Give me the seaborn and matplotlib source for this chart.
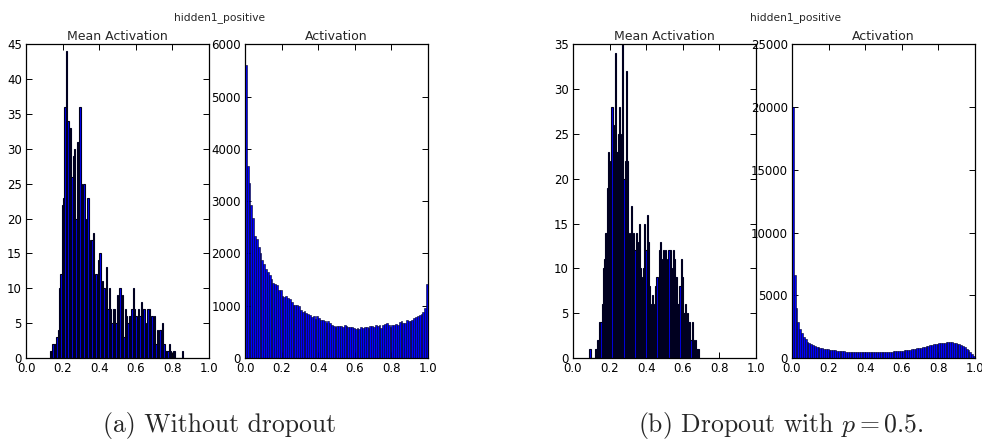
"""Histograms of hidden unit activations, with and without dropout."""

import matplotlib
matplotlib.use("Agg")
import matplotlib.pyplot as plt
import numpy as np
import pandas as pd
import seaborn as sns

# Mean activation per hidden unit, without dropout (100 bins, 0.13 .. 0.86)
mean_nodrop_range = (0.13, 0.86)
mean_nodrop_counts = [
    1, 1, 2, 2, 2, 3, 4, 10, 12, 22,
    23, 36, 44, 34, 33, 33, 26, 29, 30, 20,
    31, 31, 36, 25, 20, 25, 16, 20, 23, 14,
    17, 17, 18, 8, 12, 11, 14, 15, 5, 11,
    10, 9, 13, 7, 10, 7, 5, 7, 7, 5,
    9, 8, 10, 7, 9, 3, 7, 6, 5, 6,
    6, 7, 10, 7, 6, 3, 7, 6, 8, 7,
    7, 3, 5, 7, 7, 4, 6, 5, 6, 2,
    4, 3, 4, 4, 5, 2, 1, 1, 1, 2,
    1, 0, 1, 1, 0, 0, 0, 0, 0, 1,
]

# Activations of all units, without dropout (100 bins, 0 .. 1)
act_nodrop_counts = [
    5600, 3680, 3350, 2930, 2680, 2340, 2280, 2120, 2000, 1880,
    1800, 1700, 1650, 1580, 1520, 1440, 1420, 1390, 1300, 1300,
    1180, 1170, 1190, 1140, 1130, 1080, 1010, 1010, 1010, 990,
    920, 880, 900, 860, 840, 820, 790, 800, 740, 810,
    770, 730, 730, 700, 660, 700, 660, 640, 610, 600,
    620, 610, 620, 600, 630, 620, 590, 600, 590, 580,
    560, 570, 550, 600, 580, 590, 600, 580, 610, 620,
    600, 630, 620, 630, 580, 630, 650, 670, 640, 600,
    640, 640, 650, 640, 690, 700, 670, 660, 720, 710,
    700, 730, 760, 780, 800, 830, 840, 880, 960, 1420,
]

# Mean activation per hidden unit, dropout p=0.5 (100 bins, 0.09 .. 0.69)
mean_drop_range = (0.09, 0.69)
mean_drop_counts = [
    1, 0, 0, 0, 0, 1, 1, 2, 2, 4,
    4, 6, 10, 11, 14, 14, 19, 23, 21, 22,
    28, 26, 22, 34, 23, 23, 25, 28, 23, 25,
    35, 20, 22, 32, 22, 14, 11, 14, 17, 13,
    14, 12, 14, 8, 13, 15, 10, 8, 9, 10,
    15, 12, 16, 13, 8, 6, 5, 7, 6, 5,
    8, 9, 7, 12, 13, 11, 8, 12, 11, 12,
    10, 11, 12, 12, 10, 9, 12, 11, 9, 9,
    6, 6, 8, 11, 9, 5, 5, 6, 4, 5,
    4, 4, 2, 4, 2, 1, 2, 1, 1, 1,
]

# Activations of all units, dropout p=0.5 (100 bins, 0 .. 1)
act_drop_counts = [
    20000, 6600, 4000, 2900, 2300, 2000, 1700, 1500, 1300, 1200,
    1100, 1000, 950, 900, 850, 820, 760, 720, 700, 680,
    650, 630, 620, 600, 580, 560, 560, 540, 520, 510,
    510, 500, 490, 490, 480, 480, 470, 470, 470, 460,
    460, 460, 460, 460, 460, 470, 470, 470, 480, 480,
    490, 490, 500, 500, 510, 520, 530, 540, 550, 560,
    580, 600, 610, 630, 650, 680, 700, 730, 760, 790,
    820, 860, 890, 930, 970, 1000, 1040, 1080, 1110, 1140,
    1170, 1190, 1210, 1230, 1240, 1250, 1250, 1240, 1220, 1190,
    1150, 1090, 1020, 940, 850, 740, 620, 480, 330, 170,
]

panel_titles = ["Mean Activation", "Activation"]
suptitle = "hidden1_positive"
captions = ["(a) Without dropout", "(b) Dropout with $p = 0.5$."]
x_ticks = [0.0, 0.2, 0.4, 0.6, 0.8, 1.0]
y_ticks = [
    list(range(0, 46, 5)),
    list(range(0, 6001, 1000)),
    list(range(0, 36, 5)),
    list(range(0, 25001, 5000)),
]
y_max = [45, 6000, 35, 25000]


def _hist(ax, counts, lo, hi, title, yt, ymax, lw):
    edges = np.linspace(lo, hi, len(counts) + 1)
    df = pd.DataFrame({"value": (edges[:-1] + edges[1:]) / 2, "n": counts})
    sns.histplot(data=df, x="value", weights="n", bins=edges.tolist(),
                 color="#0000ff", edgecolor="#000020", linewidth=lw,
                 alpha=1.0, ax=ax)
    ax.set_xlim(0, 1)
    ax.set_ylim(0, ymax)
    ax.set_xticks(x_ticks)
    ax.set_xticklabels([f"{t:.1f}" for t in x_ticks])
    ax.set_yticks(yt)
    ax.set_xlabel("")
    ax.set_ylabel("")
    ax.set_title(title, fontsize=9, pad=3)
    ax.tick_params(direction="in", top=True, right=True, length=4,
                   width=0.7, labelsize=8.5, pad=3, colors="black")
    for s in ax.spines.values():
        s.set_color("black")
        s.set_linewidth(0.9)


sns.set_style("ticks")
plt.rcParams["font.family"] = ["DejaVu Sans"]
plt.rcParams["mathtext.fontset"] = "cm"

fig = plt.figure(figsize=(9.82, 4.4), dpi=100)
lefts = [0.0265, 0.2495, 0.5835, 0.8065]
axes = [fig.add_axes([l, 0.1864, 0.1863, 0.7125]) for l in lefts]

_hist(axes[0], mean_nodrop_counts, *mean_nodrop_range, panel_titles[0], y_ticks[0], y_max[0], 0.8)
_hist(axes[1], act_nodrop_counts, 0.0, 1.0, panel_titles[1], y_ticks[1], y_max[1], 0.4)
_hist(axes[2], mean_drop_counts, *mean_drop_range, panel_titles[0], y_ticks[2], y_max[2], 0.8)
_hist(axes[3], act_drop_counts, 0.0, 1.0, panel_titles[1], y_ticks[3], y_max[3], 0.4)

fig.text(0.224, 0.961, suptitle, ha="center", va="center", fontsize=7.7)
fig.text(0.810, 0.961, suptitle, ha="center", va="center", fontsize=7.7)
fig.text(0.224, 0.034, captions[0], ha="center", va="center", fontsize=18.5, family="cmr10")
fig.text(0.795, 0.034, captions[1], ha="center", va="center", fontsize=18.5, family="cmr10")

fig.savefig("out.png", dpi=100)
